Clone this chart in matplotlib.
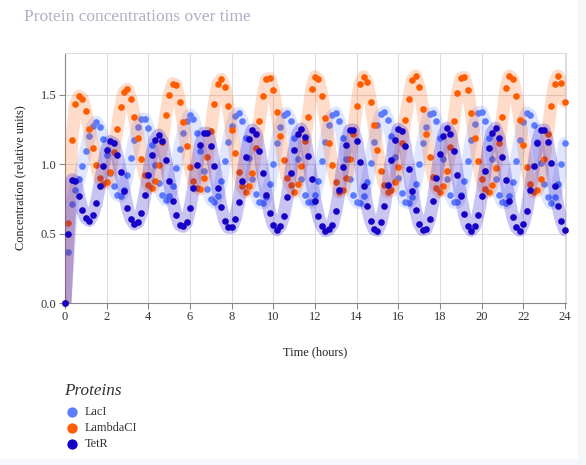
import numpy as np
import matplotlib.pyplot as plt
from matplotlib.lines import Line2D
from matplotlib.patches import Rectangle

plt.rcParams['font.family'] = ['Liberation Serif', 'DejaVu Serif']

# samples every 10 minutes, 0 .. 24 h
step_minutes = 10

laci = [0.0, 0.37, 0.71, 0.815, 0.89, 0.988, 1.096, 1.20, 1.275, 1.302,
        1.266, 1.182, 1.062, 0.935, 0.839, 0.779, 0.77, 0.815, 0.923, 1.043,
        1.175, 1.266, 1.324, 1.324, 1.259, 1.139, 0.995, 0.865, 0.779, 0.743,
        0.767, 0.84, 0.971, 1.108, 1.227, 1.312, 1.355, 1.326, 1.227, 1.091,
        0.947, 0.822, 0.748, 0.724, 0.772, 0.875, 1.019, 1.156, 1.276, 1.347,
        1.366, 1.312, 1.191, 1.043, 0.894, 0.786, 0.724, 0.72, 0.76, 0.86,
        1.00, 1.15, 1.27, 1.35, 1.365, 1.31, 1.19, 1.04, 0.89, 0.78,
        0.725, 0.725, 0.78, 0.88, 1.02, 1.16, 1.28, 1.35, 1.37, 1.31,
        1.19, 1.04, 0.89, 0.78, 0.73, 0.72, 0.77, 0.87, 1.01, 1.16,
        1.28, 1.36, 1.375, 1.32, 1.20, 1.05, 0.90, 0.79, 0.73, 0.72,
        0.76, 0.86, 1.00, 1.15, 1.27, 1.36, 1.37, 1.31, 1.19, 1.04,
        0.89, 0.78, 0.725, 0.725, 0.78, 0.88, 1.02, 1.17, 1.29, 1.37,
        1.375, 1.31, 1.19, 1.04, 0.89, 0.78, 0.725, 0.72, 0.77, 0.87,
        1.02, 1.17, 1.30, 1.37, 1.35, 1.28, 1.16, 1.01, 0.86, 0.76,
        0.72, 0.76, 0.86, 1.00, 1.15]

lambdaci = [0.0, 0.575, 1.175, 1.43, 1.49, 1.47, 1.38, 1.25, 1.115, 0.99,
            0.90, 0.86, 0.87, 0.94, 1.09, 1.25, 1.41, 1.52, 1.54, 1.47,
            1.34, 1.19, 1.04, 0.92, 0.85, 0.83, 0.875, 0.99, 1.16, 1.35,
            1.50, 1.58, 1.57, 1.45, 1.30, 1.13, 0.98, 0.875, 0.83, 0.82,
            0.90, 1.05, 1.24, 1.43, 1.58, 1.61, 1.555, 1.42, 1.247, 1.08,
            0.94, 0.84, 0.80, 0.84, 0.935, 1.115, 1.307, 1.49, 1.61, 1.617,
            1.53, 1.378, 1.20, 1.03, 0.90, 0.85, 0.80, 0.856, 0.983, 1.163,
            1.34, 1.54, 1.63, 1.61, 1.49, 1.33, 1.15, 0.99, 0.87, 0.80,
            0.81, 0.90, 1.04, 1.22, 1.42, 1.58, 1.63, 1.59, 1.45, 1.28,
            1.10, 0.95, 0.85, 0.80, 0.81, 0.87, 0.98, 1.15, 1.32, 1.47,
            1.605, 1.635, 1.555, 1.40, 1.22, 1.05, 0.91, 0.83, 0.80, 0.84,
            0.95, 1.12, 1.31, 1.51, 1.62, 1.625, 1.53, 1.37, 1.19, 1.02,
            0.89, 0.82, 0.80, 0.85, 0.97, 1.15, 1.34, 1.55, 1.635, 1.61,
            1.49, 1.32, 1.14, 0.98, 0.86, 0.80, 0.81, 0.89, 1.04, 1.22,
            1.42, 1.58, 1.637, 1.585, 1.45]

tetr = [0.0, 0.50, 0.887, 0.875, 0.767, 0.666, 0.611, 0.594, 0.635, 0.719,
        0.846, 0.983, 1.103, 1.163, 1.15, 1.067, 0.94, 0.803, 0.683, 0.606,
        0.568, 0.58, 0.647, 0.774, 0.923, 1.067, 1.175, 1.21, 1.163, 1.03,
        0.88, 0.736, 0.635, 0.563, 0.551, 0.58, 0.683, 0.827, 0.995, 1.134,
        1.223, 1.223, 1.13, 0.983, 0.827, 0.688, 0.592, 0.544, 0.544, 0.604,
        0.724, 0.88, 1.05, 1.18, 1.247, 1.216, 1.096, 0.935, 0.78, 0.647,
        0.563, 0.527, 0.551, 0.628, 0.762, 0.935, 1.098, 1.216, 1.254, 1.194,
        1.055, 0.892, 0.738, 0.623, 0.551, 0.52, 0.53, 0.563, 0.659, 0.81,
        0.978, 1.139, 1.242, 1.247, 1.163, 1.012, 0.844, 0.70, 0.594, 0.532,
        0.522, 0.58, 0.695, 0.851, 1.026, 1.175, 1.252, 1.235, 1.127, 0.964,
        0.803, 0.666, 0.57, 0.527, 0.532, 0.604, 0.731, 0.899, 1.074, 1.204,
        1.259, 1.218, 1.091, 0.923, 0.767, 0.64, 0.556, 0.522, 0.551, 0.635,
        0.772, 0.947, 1.115, 1.227, 1.259, 1.187, 1.048, 0.882, 0.731, 0.616,
        0.544, 0.522, 0.568, 0.664, 0.815, 0.988, 1.151, 1.242, 1.247, 1.158,
        1.007, 0.839, 0.695, 0.587, 0.527]

proteins = ['LacI', 'LambdaCI', 'TetR']
series = [laci, lambdaci, tetr]
colors = ['#5b7cff', '#ff5c00', '#1600c8']
band_alpha = [0.19, 0.21, 0.23]

xticks = list(range(0, 25, 2))
yticks = [0.0, 0.5, 1.0, 1.5]

hours = np.arange(len(laci)) * step_minutes / 60

W, H = 586, 465
fig = plt.figure(figsize=(W / 100, H / 100), dpi=100)
fig.patches.append(Rectangle((0, 0), 1, 6 / H, transform=fig.transFigure,
                             color='#f6f7fc', zorder=0))
fig.patches.append(Rectangle((578 / W, 0), 8 / W, 1, transform=fig.transFigure,
                             color='#f6f7f9', zorder=0))

ax = fig.add_axes([65 / W, 162 / H, 501 / W, 250 / H])

for k, (name, vals, col) in enumerate(zip(proteins, series, colors)):
    ax.plot(hours, vals, color=col, lw=9.3, alpha=band_alpha[k],
            solid_capstyle='round', solid_joinstyle='round', zorder=3 + 2 * k)
    ax.scatter(hours, vals, s=23, color=col, linewidths=0, zorder=4 + 2 * k,
               clip_on=False)

ax.set_xlim(0, 24.05)
ax.set_ylim(0, 1.8)
ax.set_xticks(xticks)
ax.set_yticks(yticks)
ax.set_yticklabels([f'{v:.1f}' for v in yticks])
ax.grid(True, color='#dddddd', lw=0.8, zorder=0)
ax.set_axisbelow(True)
for s in ['top', 'right']:
    ax.spines[s].set_color('#dddddd')
for s in ['left', 'bottom']:
    ax.spines[s].set_color('#888888')
ax.tick_params(length=4, color='#888888', labelsize=9, labelcolor='#333333', pad=2)

ax.set_xlabel('Time (hours)', fontsize=8.8, color='#222222')
ax.xaxis.set_label_coords(0.5, -0.172)
ax.set_ylabel('Concentration (relative units)', fontsize=8.8, color='#222222')
ax.yaxis.set_label_coords(-0.078, 0.5)

fig.text(24 / W, 1 - 17 / H, 'Protein concentrations over time', fontsize=12.5,
         color='#b0b0c4', va='center', ha='left')

# legend
fig.text(64 / W, 1 - 391 / H, 'Proteins', fontsize=12.3, style='italic',
         color='#333333', va='center', ha='left')
for name, col, y in zip(proteins, colors, [412, 428, 444]):
    fig.add_artist(Line2D([72 / W], [1 - y / H], marker='o', ms=7.4, color=col,
                          mec='none', transform=fig.transFigure))
    fig.text(85 / W, 1 - y / H, name, fontsize=8.8, color='#333333',
             va='center', ha='left')

fig.savefig('out.png', dpi=100)
